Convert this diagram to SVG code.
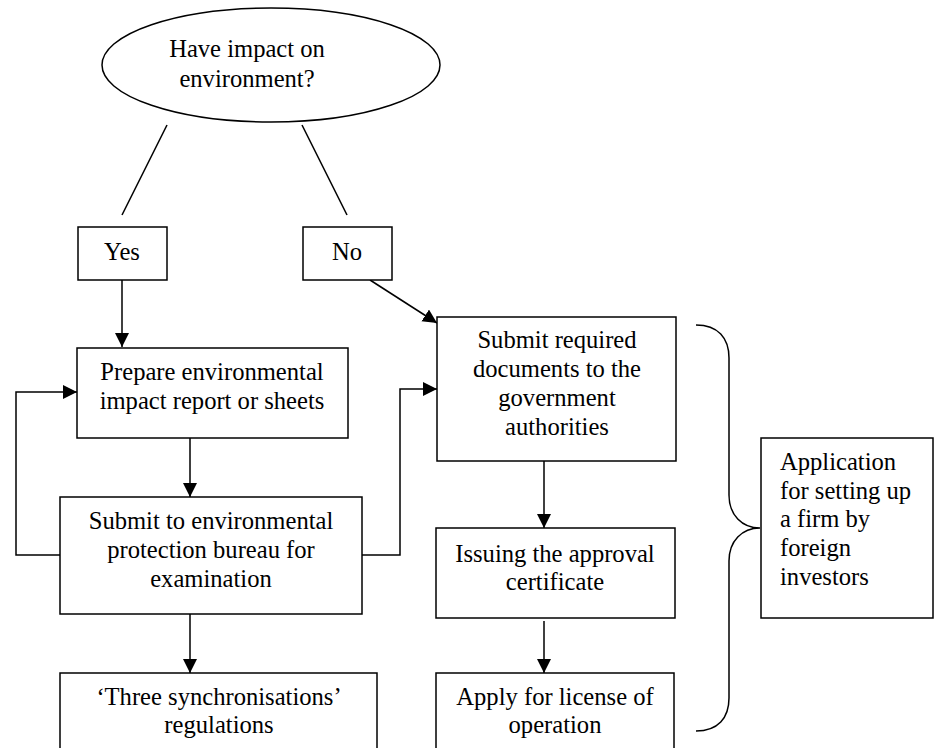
<svg xmlns="http://www.w3.org/2000/svg" width="944" height="748" viewBox="0 0 944 748">
<style>
.box{fill:#fff;stroke:#000;stroke-width:1.5}
.ln{fill:none;stroke:#000;stroke-width:1.5}
text{font-family:"Liberation Serif","Times New Roman",serif;font-size:24.6px;fill:#000}
.c{text-anchor:middle}
</style>
<defs>
<marker id="ah" markerUnits="userSpaceOnUse" markerWidth="15" markerHeight="15" refX="14" refY="7" orient="auto">
<path d="M0,0 L14,7 L0,14 z" fill="#000"/>
</marker>
</defs>
<rect width="944" height="748" fill="#fff"/>
<g id="connectors">
<line class="ln" x1="167" y1="125" x2="122" y2="215"/>
<line class="ln" x1="302" y1="125" x2="347" y2="215"/>
<line class="ln" x1="122" y1="280" x2="122" y2="347" marker-end="url(#ah)"/>
<line class="ln" x1="370" y1="280" x2="437" y2="323" marker-end="url(#ah)"/>
<line class="ln" x1="190" y1="438" x2="190" y2="497" marker-end="url(#ah)"/>
<line class="ln" x1="190" y1="614" x2="190" y2="673" marker-end="url(#ah)"/>
<polyline class="ln" points="60,555 16,555 16,392 77,392" marker-end="url(#ah)"/>
<polyline class="ln" points="362,555 400,555 400,389 437,389" marker-end="url(#ah)"/>
<line class="ln" x1="544" y1="461" x2="544" y2="528" marker-end="url(#ah)"/>
<line class="ln" x1="544" y1="621" x2="544" y2="673" marker-end="url(#ah)"/>
<path class="ln" d="M696,325 C718,325 729,338 729,358 L729,495 C729,515 742,528 760,528 C742,528 729,541 729,561 L729,698 C729,718 718,731 696,731"/>
</g>
<g id="decision">
<ellipse class="box" cx="271" cy="65" rx="169" ry="57"/>
<text class="c" x="247" y="57">Have impact on</text>
<text class="c" x="247" y="87">environment?</text>
</g>
<g id="yes">
<rect class="box" x="78" y="227" width="89" height="53"/>
<text class="c" x="122" y="260">Yes</text>
</g>
<g id="no">
<rect class="box" x="303" y="227" width="89" height="53"/>
<text class="c" x="347" y="260">No</text>
</g>
<g id="prepare">
<rect class="box" x="77" y="348" width="271" height="90"/>
<text class="c" x="212" y="380">Prepare environmental</text>
<text class="c" x="212" y="409">impact report or sheets</text>
</g>
<g id="submit-env">
<rect class="box" x="60" y="497" width="302" height="117"/>
<text class="c" x="211" y="529">Submit to environmental</text>
<text class="c" x="211" y="558">protection bureau for</text>
<text class="c" x="211" y="587">examination</text>
</g>
<g id="three">
<rect class="box" x="60" y="673" width="317" height="90"/>
<text class="c" x="219" y="705">‘Three synchronisations’</text>
<text class="c" x="219" y="733">regulations</text>
</g>
<g id="submit-req">
<rect class="box" x="437" y="317" width="239" height="144"/>
<text class="c" x="557" y="348">Submit required</text>
<text class="c" x="557" y="377">documents to the</text>
<text class="c" x="557" y="406">government</text>
<text class="c" x="557" y="435">authorities</text>
</g>
<g id="issuing">
<rect class="box" x="436" y="528" width="239" height="90"/>
<text class="c" x="555" y="562">Issuing the approval</text>
<text class="c" x="555" y="590">certificate</text>
</g>
<g id="apply">
<rect class="box" x="436" y="673" width="238" height="90"/>
<text class="c" x="555" y="705">Apply for license of</text>
<text class="c" x="555" y="733">operation</text>
</g>
<g id="application">
<rect class="box" x="761" y="438" width="172" height="180"/>
<text x="780" y="470">Application</text>
<text x="780" y="499">for setting up</text>
<text x="780" y="527">a firm by</text>
<text x="780" y="556">foreign</text>
<text x="780" y="585">investors</text>
</g>
</svg>
